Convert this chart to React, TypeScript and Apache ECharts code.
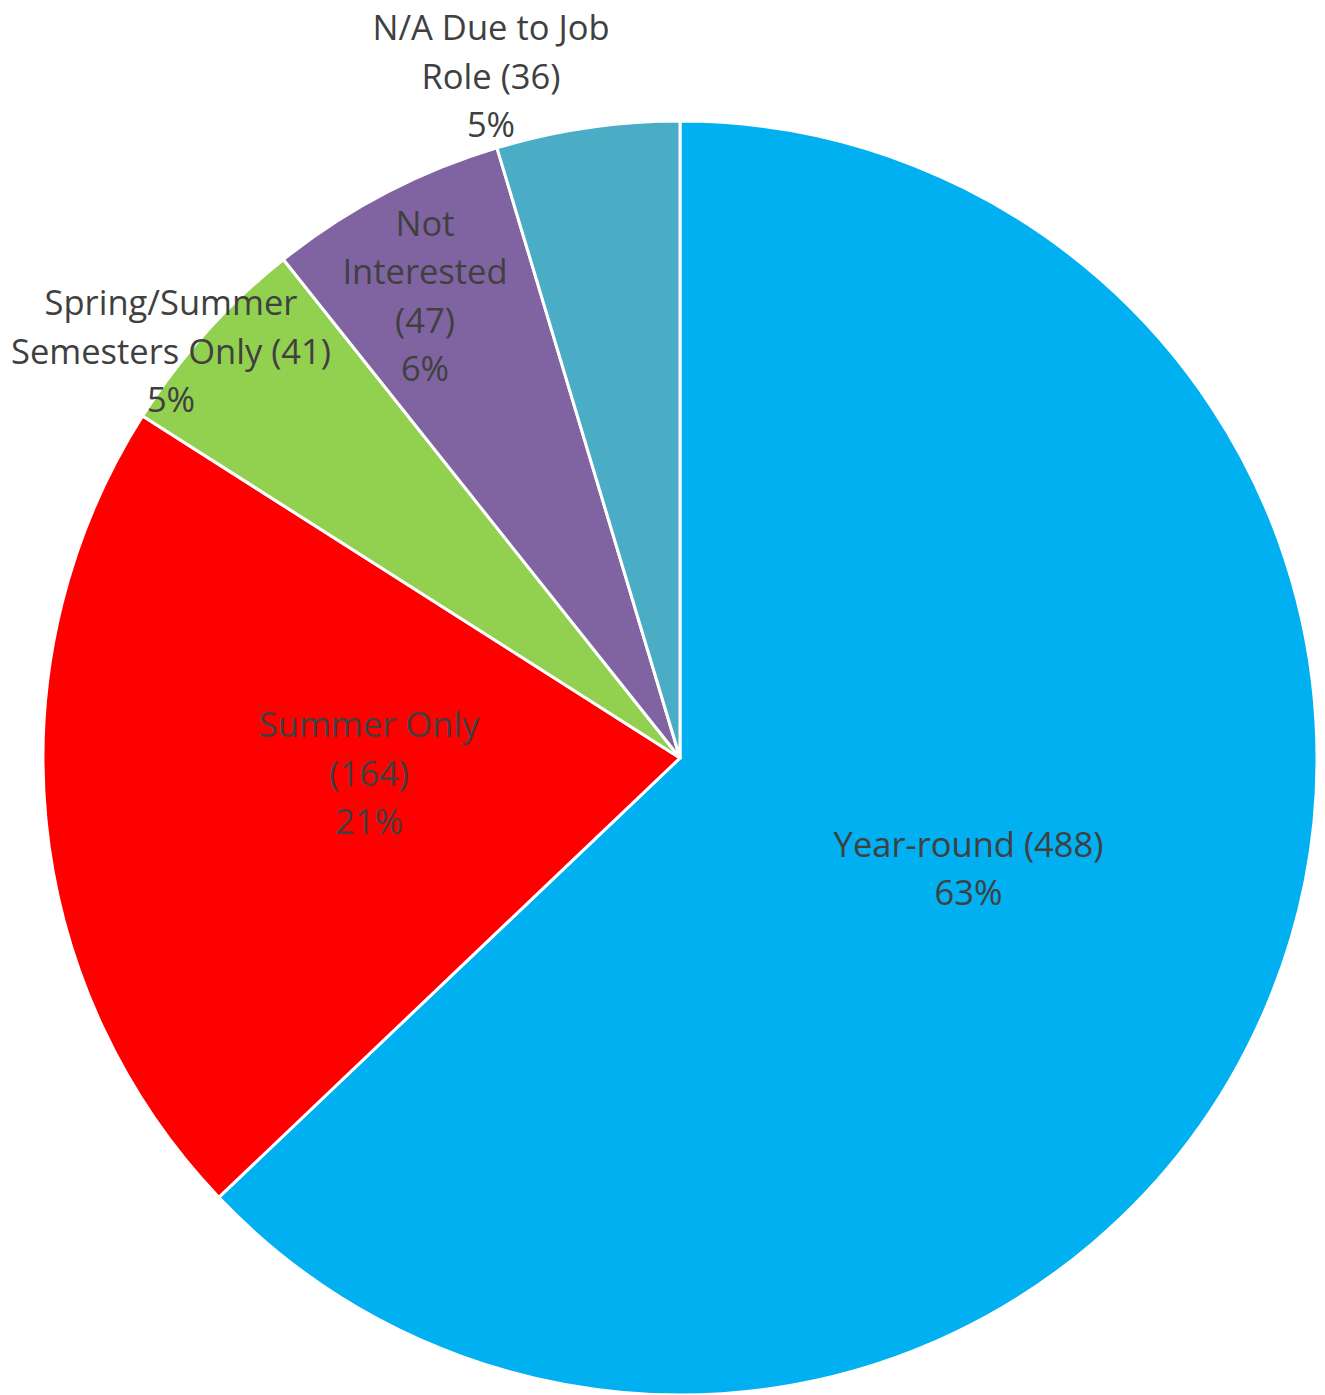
import React, { useEffect, useRef } from "react";
import * as echarts from "echarts";

const categories = [
  "Year-round",
  "Summer Only",
  "Spring/Summer Semesters Only",
  "Not Interested",
  "N/A Due to Job Role",
];
const labelLines = [
  "Year-round (488)",
  "Summer Only\n(164)",
  "Spring/Summer\nSemesters Only (41)",
  "Not\nInterested\n(47)",
  "N/A Due to Job\nRole (36)",
];
const values = [488, 164, 41, 47, 36];
const colors = ["#00B0F0", "#FF0000", "#92D050", "#8064A2", "#4BACC6"];

export default function App() {
  const ref = useRef<HTMLDivElement>(null);
  useEffect(() => {
    if (!ref.current) return;
    const chart = echarts.init(ref.current, undefined, { renderer: "svg" });
    const total = values.reduce((a, b) => a + b, 0);
    const labelPos: Record<number, [number, number]> = {
      2: [171, 350],
      3: [425, 295],
      4: [491, 75],
    };
    chart.setOption({
      animation: false,
      backgroundColor: "#ffffff",
      series: [
        {
          type: "pie",
          center: [680, 758],
          radius: [0, 637],
          startAngle: 90,
          clockwise: true,
          avoidLabelOverlap: false,
          data: categories.map((c, i) => ({
            name: c,
            value: values[i],
            itemStyle: { color: colors[i] },
          })),
          itemStyle: { borderColor: "#ffffff", borderWidth: 3 },
          label: {
            show: true,
            position: "inside",
            color: "#404040",
            fontFamily: "Open Sans",
            fontSize: 34.5,
            lineHeight: 48.5,
            align: "center",
            formatter: (p: any) =>
              labelLines[p.dataIndex] +
              "\n" +
              Math.round((values[p.dataIndex] / total) * 100) +
              "%",
          },
          labelLine: { show: false },
          labelLayout: (p: any) => {
            const pos = labelPos[p.dataIndex];
            if (pos) {
              return { x: pos[0], y: pos[1], align: "center", verticalAlign: "middle" };
            }
            if (p.dataIndex === 0) return { dx: -7, dy: -17 };
            if (p.dataIndex === 1) return { dx: 9, dy: -17 };
            return {};
          },
          emphasis: { disabled: true },
        },
      ],
    });
    return () => chart.dispose();
  }, []);
  return (
    <div
      ref={ref}
      style={{ position: "fixed", left: 0, top: 0, width: 1325, height: 1395 }}
    />
  );
}
